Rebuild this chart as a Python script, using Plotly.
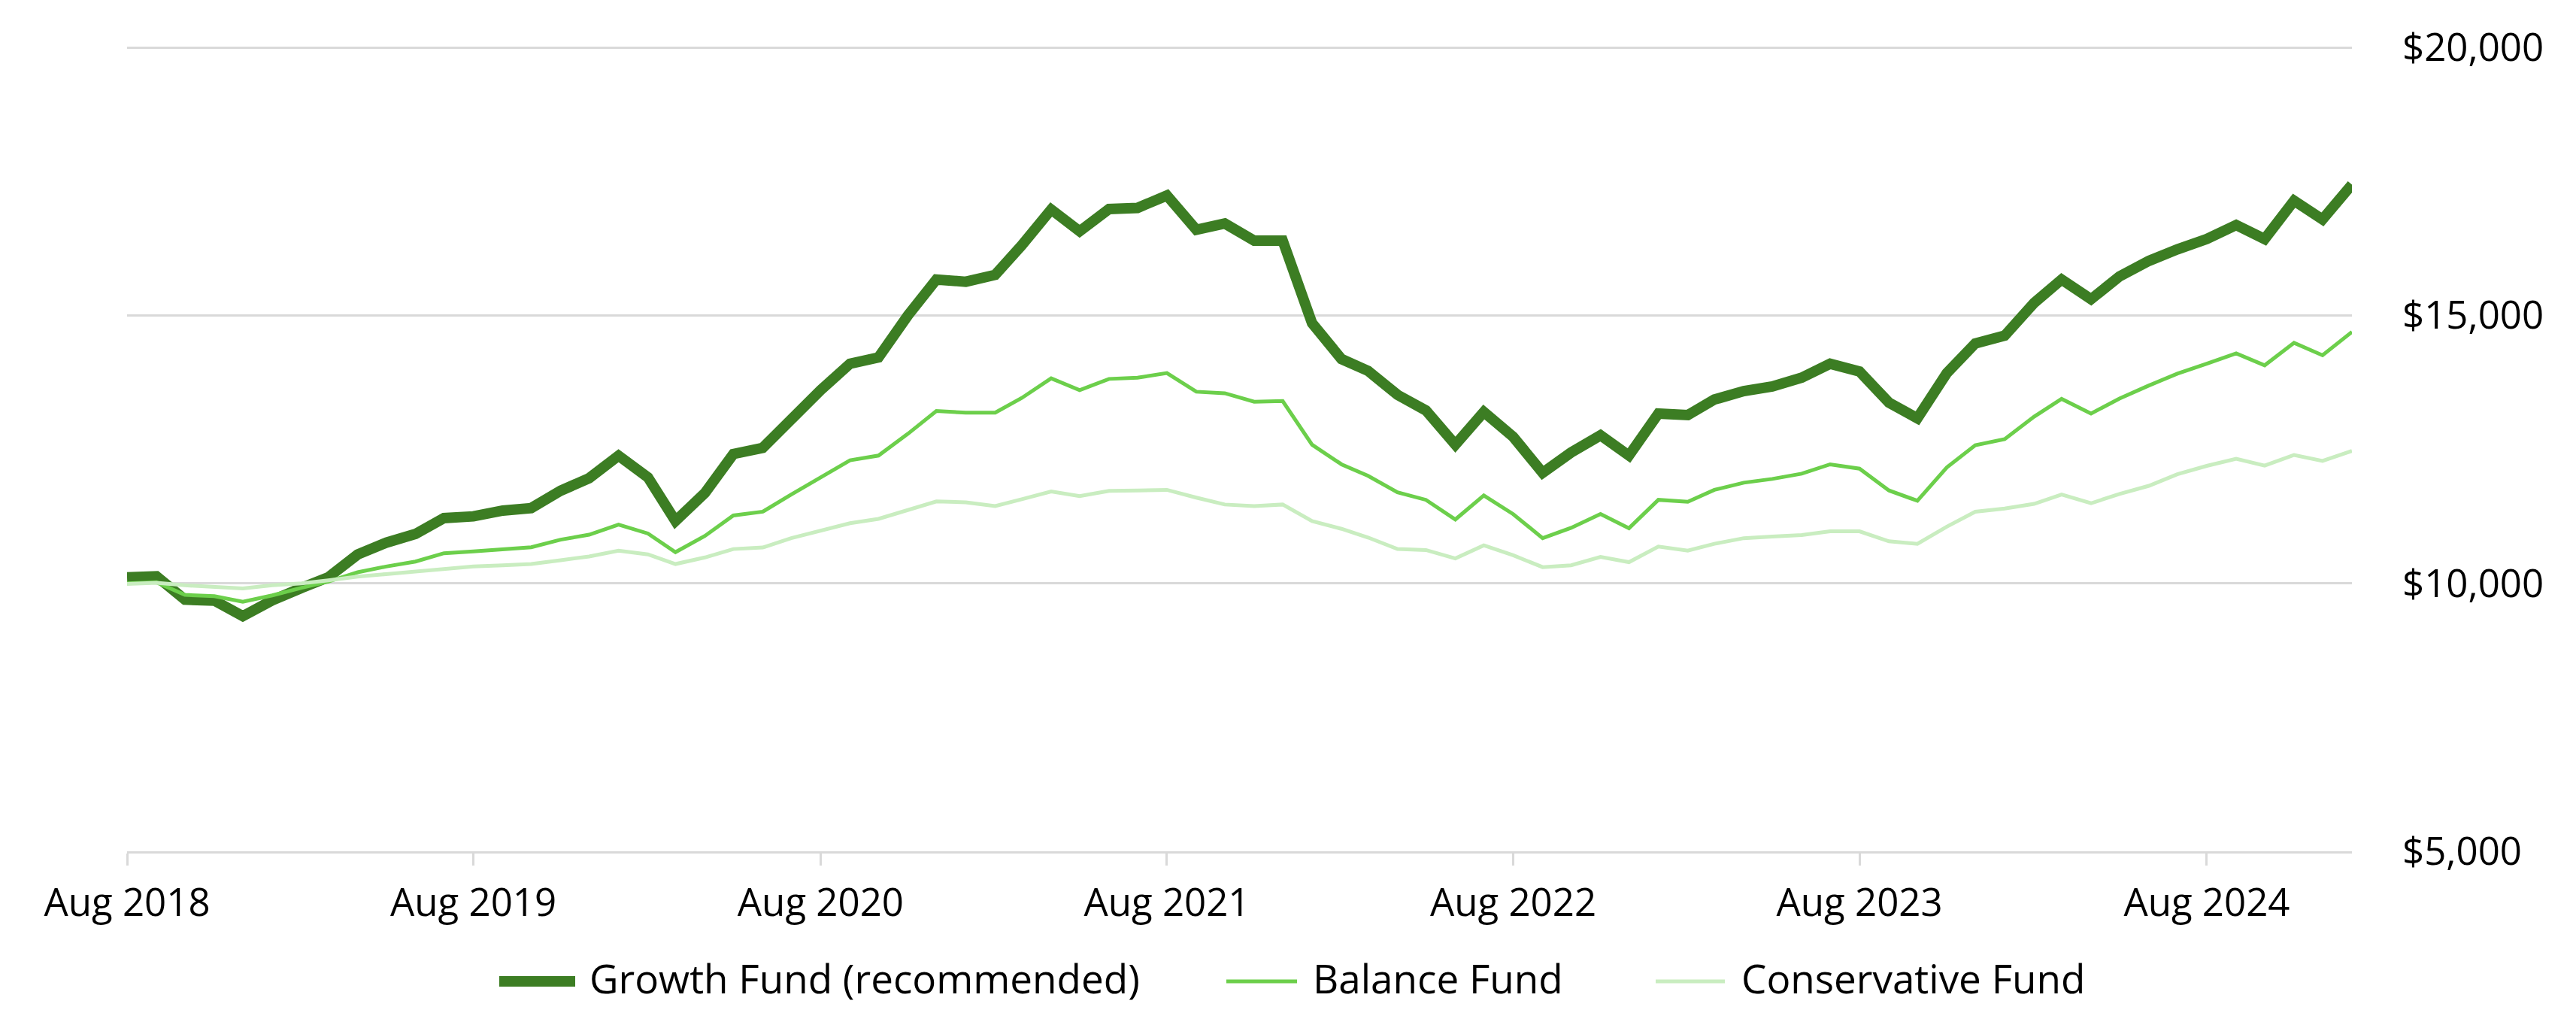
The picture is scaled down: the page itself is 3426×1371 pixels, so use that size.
import plotly.graph_objects as go
import pandas as pd

# ---- data ----
months = pd.date_range("2018-08-01", "2025-01-01", freq="MS")

growth = [10112, 10131, 9696, 9677, 9387, 9682, 9916, 10112, 10538, 10758, 10922, 11217,
          11250, 11358, 11405, 11728, 11962, 12383, 11977, 11163, 11686, 12413, 12529, 13081,
          13605, 14099, 14215, 15000, 15669, 15628, 15756, 16308, 16977, 16570, 16985, 17006,
          17238, 16599, 16715, 16395, 16395, 14855, 14186, 13965, 13518, 13227, 12587, 13198,
          12733, 12064, 12442, 12762, 12384, 13169, 13140, 13430, 13587, 13674, 13837, 14099,
          13953, 13372, 13081, 13924, 14476, 14622, 15233, 15669, 15302, 15727, 16018, 16233,
          16425, 16686, 16425, 17140, 16791, 17442]

balance = [10000, 10019, 9785, 9761, 9658, 9775, 9916, 10033, 10206, 10314, 10407, 10562,
           10595, 10641, 10674, 10815, 10908, 11095, 10930, 10581, 10884, 11267, 11337, 11657,
           11977, 12297, 12384, 12791, 13215, 13186, 13186, 13459, 13826, 13605, 13815, 13837,
           13924, 13576, 13547, 13390, 13402, 12587, 12221, 12006, 11698, 11558, 11192, 11640,
           11291, 10843, 11035, 11294, 11029, 11558, 11523, 11744, 11878, 11948, 12047, 12221,
           12140, 11733, 11541, 12163, 12576, 12692, 13110, 13442, 13169, 13448, 13692, 13913,
           14099, 14291, 14069, 14488, 14256, 14692]

conservative = [9990, 10009, 9963, 9939, 9906, 9963, 10000, 10056, 10126, 10173, 10220, 10281,
                10314, 10337, 10360, 10431, 10501, 10610, 10541, 10360, 10483, 10640, 10669, 10843,
                10988, 11122, 11203, 11366, 11529, 11512, 11442, 11570, 11715, 11628, 11724, 11733,
                11744, 11599, 11471, 11442, 11471, 11163, 11017, 10855, 10640, 10622, 10465, 10709,
                10523, 10302, 10337, 10494, 10395, 10686, 10610, 10738, 10843, 10872, 10901, 10971,
                10971, 10785, 10738, 11058, 11337, 11395, 11483, 11657, 11494, 11669, 11820, 12035,
                12192, 12326, 12198, 12396, 12285, 12471]

series_names = ["Growth Fund (recommended)", "Balance Fund", "Conservative Fund"]
y_ticks = [5000, 10000, 15000, 20000]
y_tick_labels = ["$5,000", "$10,000", "$15,000", "$20,000"]

# ---- style ----
colors = ["#3C7D23", "#6CCF4B", "#C9EDC0"]
widths = [14, 5, 5]
FONT = "'Open Sans', 'Noto Sans', sans-serif"
FS = 51
FS_LEG = 53
W, H = 3426, 1371
L, R, T, B = 161, 306, 53, 247
GRID = "#D9D9D9"

fig = go.Figure()
for name, vals, c, w in zip(series_names, [growth, balance, conservative], colors, widths):
    fig.add_trace(go.Scatter(x=months, y=vals, mode="lines", name=name,
                             line=dict(color=c, width=w), showlegend=False,
                             hoverinfo="skip"))

fig.update_layout(
    width=W, height=H,
    margin=dict(l=L, r=R, t=T, b=B),
    paper_bgcolor="white", plot_bgcolor="white",
    font=dict(family=FONT, size=FS, color="#000000"),
    showlegend=False,
)

fig.update_xaxes(
    range=[months[0], months[-1]],
    tick0="2018-08-01", dtick="M12", tickformat="%b %Y",
    ticks="outside", ticklen=16, tickwidth=3, tickcolor=GRID,
    showline=True, linecolor=GRID, linewidth=3,
    showgrid=False, zeroline=False,
    ticklabelstandoff=6,
    tickfont=dict(family=FONT, size=FS, color="#000000"),
)
fig.update_yaxes(
    range=[5000, 20030], side="right",
    tickvals=y_ticks, ticktext=y_tick_labels,
    showgrid=True, gridcolor=GRID, gridwidth=3,
    zeroline=False, showline=False, ticks="",
    ticklabelstandoff=66,
    tickfont=dict(family=FONT, size=FS, color="#000000"),
)

# ---- custom legend (layout only) ----
pw = W - L - R
ph = H - T - B

def px(xp):
    return (xp - L) / pw

def py(yp):
    return (H - B - yp) / ph

swatch_y = 1297
text_y = 1293
items = [
    (656, 757, 774, 14),
    (1623, 1717, 1736, 5),
    (2194, 2286, 2306, 5),
]
for (x0, x1, xt, lw), name, c in zip(items, series_names, colors):
    fig.add_shape(type="line", xref="paper", yref="paper",
                  x0=px(x0), x1=px(x1), y0=py(swatch_y), y1=py(swatch_y),
                  line=dict(color=c, width=lw))
    fig.add_annotation(xref="paper", yref="paper", x=px(xt), y=py(text_y),
                       text=name, showarrow=False, xanchor="left", yanchor="middle",
                       font=dict(family=FONT, size=FS_LEG, color="#000000"))

fig.write_html("out.html")
